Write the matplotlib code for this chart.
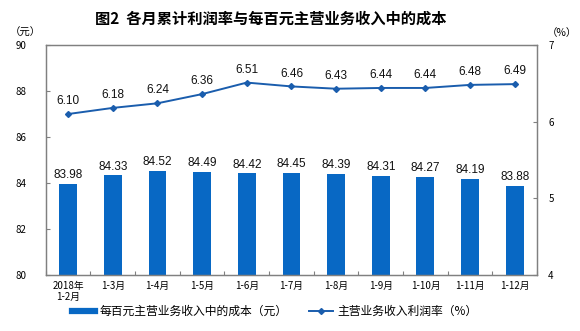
import matplotlib
matplotlib.use("Agg")
import matplotlib.pyplot as plt
from matplotlib.lines import Line2D
import numpy as np

plt.rcParams['font.family'] = ['Noto Sans CJK SC', 'DejaVu Sans']
num_font = ['Liberation Sans', 'Noto Sans CJK SC']

months = ["2018年\n1-2月", "1-3月", "1-4月", "1-5月", "1-6月", "1-7月",
          "1-8月", "1-9月", "1-10月", "1-11月", "1-12月"]
cost_per_100 = [83.98, 84.33, 84.52, 84.49, 84.42, 84.45, 84.39, 84.31, 84.27, 84.19, 83.88]
profit_rate = [6.10, 6.18, 6.24, 6.36, 6.51, 6.46, 6.43, 6.44, 6.44, 6.48, 6.49]

bar_color = "#0868C4"
line_color = "#1A5DAD"
spine_color = "#808080"

fig = plt.figure(figsize=(5.8, 3.31), dpi=100)
ax = fig.add_axes([0.079, 0.169, 0.847, 0.695])
ax2 = ax.twinx()

x = np.arange(len(months))
ax.bar(x, cost_per_100, width=0.4, color=bar_color, zorder=2)
for xi, v in zip(x, cost_per_100):
    ax.text(xi, v + 0.12, f"{v:.2f}", ha="center", va="bottom", fontsize=8.5,
            color="#111111", family=num_font)

ax.set_ylim(80, 90)
ax.set_yticks([80, 82, 84, 86, 88, 90])
ax.set_xlim(-0.5, len(months) - 0.5)
ax.set_xticks(np.arange(-0.5, len(months), 1.0), minor=False)
ax.set_xticklabels([])
ax.set_xticks(x, minor=True)
ax.set_xticklabels(months, minor=True, fontsize=7)
ax.tick_params(axis="x", which="minor", length=0, pad=4)
ax.tick_params(axis="x", which="major", direction="in", length=3, color=spine_color)
ax.tick_params(axis="y", direction="in", length=3, labelsize=7, color=spine_color, pad=18)
for lab in ax.get_yticklabels():
    lab.set_horizontalalignment("center")

ax2.plot(x, profit_rate, color=line_color, lw=1.4, marker="D", markersize=3, zorder=3)
for xi, v in zip(x, profit_rate):
    ax2.text(xi, v + 0.09, f"{v:.2f}", ha="center", va="bottom", fontsize=8.5,
             color="#111111", family=num_font)
ax2.set_ylim(4, 7)
ax2.set_yticks([4, 5, 6, 7])
ax2.tick_params(axis="y", direction="in", length=3, labelsize=7, color=spine_color, pad=8)

for a in (ax, ax2):
    for s in a.spines.values():
        s.set_color(spine_color)
        s.set_linewidth(0.9)

fig.text(0.466, 0.945, "图2  各月累计利润率与每百元主营业务收入中的成本",
         ha="center", va="center", fontsize=11, fontweight="bold")
fig.text(0.043, 0.90, "（元）", ha="center", va="center", fontsize=7.5)
fig.text(0.968, 0.90, "（%）", ha="center", va="center", fontsize=7.5)

handles = [
    Line2D([0], [0], color=bar_color, lw=4.5),
    Line2D([0], [0], color=line_color, lw=1.4, marker="D", markersize=3),
]
labels = ["每百元主营业务收入中的成本（元）", "主营业务收入利润率（%）"]
fig.legend(handles, labels, loc="center left", bbox_to_anchor=(0.105, 0.06), ncol=2,
           frameon=False, fontsize=8.5, handlelength=2.0, handletextpad=0.4,
           columnspacing=1.8)

fig.savefig("out.png", dpi=100)
